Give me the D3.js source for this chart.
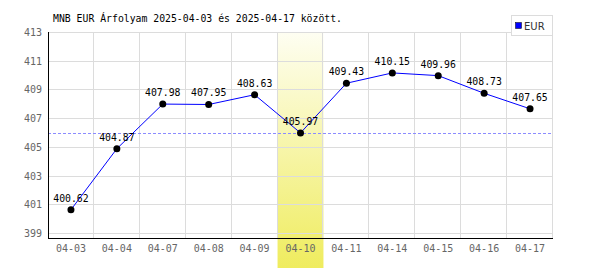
<!DOCTYPE html>
<html>
<head>
<meta charset="utf-8">
<script src="https://cdn.jsdelivr.net/npm/d3@7"></script>
<style>
  body { margin: 0; background: #fff; }
  svg text { font-family: "DejaVu Sans Mono", monospace; }
</style>
</head>
<body>
<svg id="chart" width="600" height="270"></svg>
<script>
var dates = ["04-03", "04-04", "04-07", "04-08", "04-09", "04-10", "04-11", "04-14", "04-15", "04-16", "04-17"];
var rates = [400.62, 404.87, 407.98, 407.95, 408.63, 405.97, 409.43, 410.15, 409.96, 408.73, 407.65];
var yTicks = [399, 401, 403, 405, 407, 409, 411, 413];
var highlight = "04-10";
var refLine = 405.97;
var title = "MNB EUR Árfolyam 2025-04-03 és 2025-04-17 között.";

var svg = d3.select("#chart"),
    pLeft = 48, pRight = 553, pTop = 32, pBottom = 238;

var x = d3.scaleBand().domain(dates).range([pLeft, pRight]);
var y = d3.scaleLinear().domain([398.65, 413]).range([pBottom, pTop]);

// highlight band gradient
var grad = svg.append("defs").append("linearGradient")
    .attr("id", "hl").attr("x1", 0).attr("y1", 0).attr("x2", 0).attr("y2", 1);
grad.append("stop").attr("offset", "0%").attr("stop-color", "#fefef2");
grad.append("stop").attr("offset", "100%").attr("stop-color", "#efec5e");

svg.append("rect")
    .attr("x", x(highlight))
    .attr("y", pTop)
    .attr("width", x.bandwidth())
    .attr("height", 268 - pTop)
    .attr("fill", "url(#hl)");

// grid
svg.append("g").selectAll("line").data(yTicks).enter().append("line")
    .attr("x1", pLeft).attr("x2", pRight)
    .attr("y1", function(d) { return Math.round(y(d)) + 0.5; })
    .attr("y2", function(d) { return Math.round(y(d)) + 0.5; })
    .attr("stroke", "#dcdcdc");

svg.append("g").selectAll("line").data(dates).enter().append("line")
    .attr("x1", function(d) { return Math.round(x(d) + x.bandwidth()) - 0.5; })
    .attr("x2", function(d) { return Math.round(x(d) + x.bandwidth()) - 0.5; })
    .attr("y1", pTop).attr("y2", pBottom)
    .attr("stroke", "#dcdcdc");

// dashed reference line
svg.append("line")
    .attr("x1", pLeft).attr("x2", pRight)
    .attr("y1", Math.round(y(refLine)) + 0.5).attr("y2", Math.round(y(refLine)) + 0.5)
    .attr("stroke", "#8c8cff")
    .attr("stroke-dasharray", "3,2");

// axes
svg.append("line").attr("x1", pLeft + 0.5).attr("x2", pLeft + 0.5).attr("y1", pTop).attr("y2", pBottom + 1)
    .attr("stroke", "#000");
svg.append("line").attr("x1", pLeft).attr("x2", pRight).attr("y1", pBottom + 0.5).attr("y2", pBottom + 0.5)
    .attr("stroke", "#000");

svg.append("g").selectAll("text").data(yTicks).enter().append("text")
    .attr("x", 42)
    .attr("y", function(d) { return y(d) + 4; })
    .attr("text-anchor", "end")
    .attr("font-size", 10)
    .attr("fill", "#666")
    .text(function(d) { return d; });

svg.append("g").selectAll("text").data(dates).enter().append("text")
    .attr("x", function(d) { return x(d) + x.bandwidth() / 2; })
    .attr("y", 252)
    .attr("text-anchor", "middle")
    .attr("font-size", 10)
    .attr("fill", "#666")
    .text(function(d) { return d; });

// line and points
var line = d3.line()
    .x(function(d, i) { return x(dates[i]) + x.bandwidth() / 2; })
    .y(function(d) { return y(d); });

svg.append("path")
    .datum(rates)
    .attr("fill", "none")
    .attr("stroke", "#0000ff")
    .attr("stroke-width", 1)
    .attr("d", line);

svg.append("g").selectAll("circle").data(rates).enter().append("circle")
    .attr("cx", function(d, i) { return x(dates[i]) + x.bandwidth() / 2; })
    .attr("cy", function(d) { return y(d); })
    .attr("r", 3.5)
    .attr("fill", "#000");

svg.append("g").selectAll("text").data(rates).enter().append("text")
    .attr("x", function(d, i) { return x(dates[i]) + x.bandwidth() / 2; })
    .attr("y", function(d) { return y(d) - 8; })
    .attr("text-anchor", "middle")
    .attr("font-size", 9.8)
    .attr("fill", "#000")
    .text(function(d) { return d.toFixed(2); });

// title
svg.append("text")
    .attr("x", 53).attr("y", 22)
    .attr("font-size", 9.8)
    .attr("fill", "#000")
    .text(title);

// legend
var lg = svg.append("g");
lg.append("rect").attr("x", 511.5).attr("y", 15.5).attr("width", 41).attr("height", 20)
    .attr("fill", "#fff").attr("stroke", "#dcdcdc");
lg.append("rect").attr("x", 515.5).attr("y", 22.5).attr("width", 6).attr("height", 6)
    .attr("fill", "#0000ff").attr("stroke", "#000").attr("stroke-width", 0.5);
lg.append("text").attr("x", 524).attr("y", 29.5)
    .attr("font-size", 10).attr("fill", "#333")
    .style("font-family", "'DejaVu Sans', sans-serif")
    .text("EUR");
</script>
</body>
</html>
